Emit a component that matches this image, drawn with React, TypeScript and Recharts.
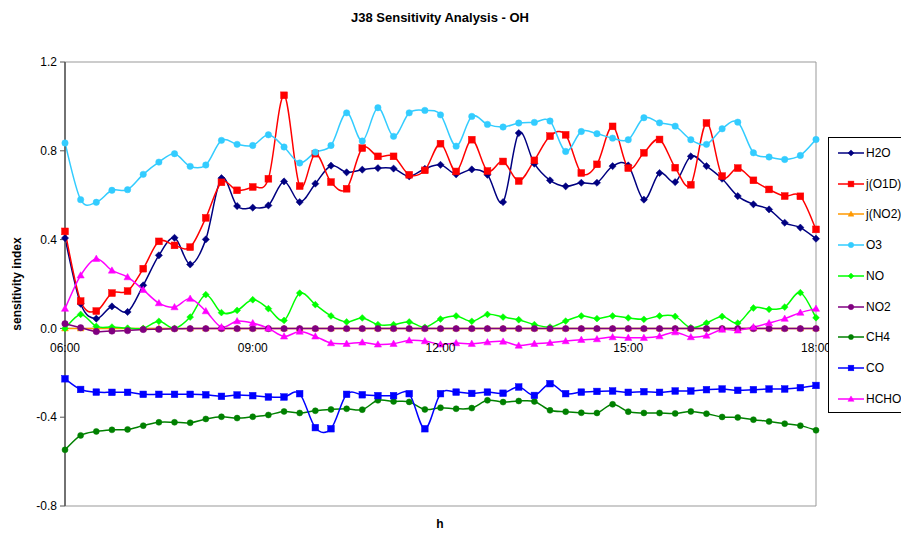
import React from "react";
import { LineChart, Line, XAxis, YAxis, ReferenceLine, ReferenceArea } from "recharts";

const times = [
  "06:00","06:15","06:30","06:45","07:00","07:15","07:30","07:45","08:00","08:15","08:30","08:45",
  "09:00","09:15","09:30","09:45","10:00","10:15","10:30","10:45","11:00","11:15","11:30","11:45",
  "12:00","12:15","12:30","12:45","13:00","13:15","13:30","13:45","14:00","14:15","14:30","14:45",
  "15:00","15:15","15:30","15:45","16:00","16:15","16:30","16:45","17:00","17:15","17:30","17:45",
  "18:00",
];
const tickLabels = ["06:00", "09:00", "12:00", "15:00", "18:00"];
const yTicks = [-0.8, -0.4, 0, 0.4, 0.8, 1.2];

const H2O = [0.407,0.111,0.044,0.099,0.074,0.194,0.329,0.408,0.288,0.401,0.677,0.551,0.544,0.554,0.662,0.569,0.652,0.733,0.703,0.715,0.722,0.72,0.685,0.719,0.737,0.694,0.716,0.692,0.569,0.88,0.742,0.667,0.64,0.656,0.656,0.731,0.734,0.58,0.7,0.659,0.775,0.731,0.674,0.596,0.559,0.536,0.476,0.454,0.404];
const jO1D = [0.437,0.123,0.078,0.159,0.168,0.269,0.392,0.374,0.366,0.498,0.658,0.622,0.637,0.674,1.05,0.641,0.787,0.659,0.629,0.812,0.775,0.775,0.692,0.712,0.832,0.707,0.85,0.709,0.752,0.664,0.757,0.866,0.872,0.7,0.739,0.91,0.722,0.791,0.851,0.724,0.647,0.925,0.686,0.722,0.667,0.626,0.596,0.595,0.446];
const jNO2 = [0,0,0,0,0,0,0,0,0,0,0,0,0,0,0,0,0,0,0,0,0,0,0,0,0,0,0,0,0,0,0,0,0,0,0,0,0,0,0,0,0,0,0,0,0,0,0,0,0];
const O3 = [0.835,0.58,0.568,0.622,0.625,0.694,0.749,0.787,0.73,0.736,0.847,0.829,0.824,0.872,0.817,0.745,0.794,0.824,0.971,0.844,0.994,0.865,0.971,0.982,0.962,0.821,0.955,0.919,0.907,0.925,0.928,0.934,0.797,0.887,0.877,0.857,0.85,0.949,0.926,0.911,0.85,0.829,0.899,0.929,0.791,0.772,0.761,0.779,0.851];
const NO = [0,0.063,0.009,0.006,0.001,0,0.032,0,0.051,0.152,0.071,0.081,0.129,0.089,0.036,0.159,0.107,0.056,0.029,0.047,0.017,0.017,0.029,0.005,0.042,0.056,0.032,0.063,0.051,0.039,0.017,0.006,0.033,0.056,0.044,0.056,0.047,0.041,0.056,0.054,0.003,0.024,0.054,0.024,0.092,0.086,0.096,0.161,0.048];
const NO2 = [0.021,0.003,-0.014,-0.012,-0.01,-0.005,-0.004,-0.002,-0.001,-0.001,-0.001,-0.001,-0.001,-0.001,-0.001,-0.001,-0.001,-0.001,-0.001,-0.001,-0.001,-0.001,-0.001,-0.001,-0.001,-0.001,-0.001,-0.001,-0.001,-0.001,-0.001,-0.001,-0.001,-0.001,-0.001,-0.001,-0.001,-0.001,-0.001,-0.001,-0.001,-0.001,-0.001,-0.001,-0.001,-0.001,-0.001,-0.001,-0.001];
const CH4 = [-0.547,-0.482,-0.464,-0.457,-0.455,-0.438,-0.423,-0.423,-0.425,-0.408,-0.398,-0.404,-0.398,-0.39,-0.374,-0.381,-0.371,-0.365,-0.362,-0.366,-0.324,-0.329,-0.331,-0.365,-0.357,-0.362,-0.359,-0.324,-0.332,-0.327,-0.329,-0.369,-0.375,-0.38,-0.381,-0.342,-0.375,-0.381,-0.381,-0.383,-0.374,-0.384,-0.399,-0.401,-0.411,-0.419,-0.429,-0.438,-0.459];
const CO = [-0.227,-0.275,-0.287,-0.288,-0.288,-0.297,-0.297,-0.297,-0.297,-0.299,-0.306,-0.3,-0.303,-0.309,-0.309,-0.294,-0.447,-0.452,-0.297,-0.299,-0.303,-0.303,-0.294,-0.452,-0.294,-0.287,-0.293,-0.287,-0.292,-0.264,-0.302,-0.249,-0.294,-0.287,-0.284,-0.282,-0.288,-0.285,-0.288,-0.282,-0.282,-0.276,-0.273,-0.279,-0.276,-0.273,-0.273,-0.267,-0.257];
const HCHO = [0.089,0.239,0.314,0.261,0.231,0.174,0.114,0.096,0.134,0.078,0.006,0.033,0.024,0,-0.036,-0.014,-0.036,-0.066,-0.069,-0.063,-0.072,-0.069,-0.054,-0.057,-0.072,-0.066,-0.069,-0.062,-0.059,-0.077,-0.069,-0.065,-0.057,-0.051,-0.048,-0.039,-0.042,-0.042,-0.035,-0.017,-0.039,-0.032,-0.005,-0.009,0.006,0.024,0.044,0.071,0.089];

type Shape = "diamond" | "square" | "triangle" | "circle";
const seriesDefs: { key: string; name: string; values: number[]; color: string; shape: Shape; size: number }[] = [
  { key: "H2O", name: "H2O", values: H2O, color: "#000080", shape: "diamond", size: 3.6 },
  { key: "jO1D", name: "j(O1D)", values: jO1D, color: "#FF0000", shape: "square", size: 3.4 },
  { key: "jNO2", name: "j(NO2)", values: jNO2, color: "#FF9900", shape: "triangle", size: 3.4 },
  { key: "O3", name: "O3", values: O3, color: "#33CCFF", shape: "circle", size: 3.2 },
  { key: "NO", name: "NO", values: NO, color: "#00FF00", shape: "diamond", size: 3.4 },
  { key: "NO2", name: "NO2", values: NO2, color: "#800080", shape: "circle", size: 3.2 },
  { key: "CH4", name: "CH4", values: CH4, color: "#008000", shape: "circle", size: 3.0 },
  { key: "CO", name: "CO", values: CO, color: "#0000FF", shape: "square", size: 3.3 },
  { key: "HCHO", name: "HCHO", values: HCHO, color: "#FF00FF", shape: "triangle", size: 3.6 },
];

const data = times.map((t, i) => {
  const row: Record<string, number | string> = { x: i, t };
  seriesDefs.forEach((s) => (row[s.key] = s.values[i]));
  return row;
});

const W = 901;
const H = 533;
const MARGIN = { top: 62, right: 85, bottom: 0, left: 0 };
const XAXIS_H = 27;
const YAXIS_W = 65;
const Y_MIN = -0.8;
const Y_MAX = 1.2;
const PLOT_H = H - MARGIN.top - MARGIN.bottom - XAXIS_H;
const ZERO_Y = MARGIN.top + (PLOT_H * (Y_MAX - 0)) / (Y_MAX - Y_MIN);
const FONT = "'Liberation Sans', Arial, sans-serif";

// Excel-like smoothing (Catmull-Rom style Bezier)
const smoothCurve = (context: any) => {
  let pts: [number, number][] = [];
  return {
    areaStart() {},
    areaEnd() {},
    lineStart() {
      pts = [];
    },
    lineEnd() {
      if (!pts.length) return;
      context.moveTo(pts[0][0], pts[0][1]);
      for (let i = 0; i < pts.length - 1; i++) {
        const p0 = pts[i - 1] || pts[i];
        const p1 = pts[i];
        const p2 = pts[i + 1];
        const p3 = pts[i + 2] || p2;
        context.bezierCurveTo(
          p1[0] + (p2[0] - p0[0]) / 6,
          p1[1] + (p2[1] - p0[1]) / 6,
          p2[0] - (p3[0] - p1[0]) / 6,
          p2[1] - (p3[1] - p1[1]) / 6,
          p2[0],
          p2[1]
        );
      }
    },
    point(x: number, y: number) {
      pts.push([+x, +y]);
    },
  };
};

const Marker = ({ cx, cy, shape, size, color }: { cx: number; cy: number; shape: Shape; size: number; color: string }) => {
  if (shape === "diamond")
    return <path d={`M${cx},${cy - size}L${cx + size},${cy}L${cx},${cy + size}L${cx - size},${cy}Z`} fill={color} stroke={color} strokeWidth={0.5} />;
  if (shape === "square")
    return <rect x={cx - size} y={cy - size} width={size * 2} height={size * 2} fill={color} stroke={color} strokeWidth={0.5} />;
  if (shape === "triangle")
    return <path d={`M${cx},${cy - size}L${cx + size},${cy + size * 0.75}L${cx - size},${cy + size * 0.75}Z`} fill={color} stroke={color} strokeWidth={0.5} />;
  return <circle cx={cx} cy={cy} r={size} fill={color} stroke={color} strokeWidth={0.5} />;
};

const XTick = (props: any) => {
  const { x, payload } = props;
  return (
    <text x={x} y={ZERO_Y + 24} textAnchor="middle" fontSize={12} fontFamily={FONT} fill="#000">
      {times[payload.value]}
    </text>
  );
};

const YLabel = (props: any) => {
  const vb = props.viewBox || { x: 0, y: MARGIN.top, height: PLOT_H };
  const cx = 17;
  const cy = vb.y + vb.height / 2;
  return (
    <text x={cx} y={cy} transform={`rotate(-90, ${cx}, ${cy})`} textAnchor="middle" dominantBaseline="central" fontSize={12} fontWeight="bold" fontFamily={FONT} fill="#000">
      sensitivity index
    </text>
  );
};

const LegendBox = () => (
  <div
    style={{
      position: "absolute",
      left: 828,
      top: 137,
      width: 90,
      height: 276,
      border: "1px solid #000",
      background: "#fff",
      boxSizing: "border-box",
    }}
  >
    {seriesDefs.map((s, i) => (
      <div key={s.key} style={{ position: "absolute", left: 8, top: 5 + i * 30.7, height: 20, display: "flex", alignItems: "center" }}>
        <svg width={28} height={20} style={{ display: "block" }}>
          <line x1={1} y1={10} x2={27} y2={10} stroke={s.color} strokeWidth={1.5} />
          <Marker cx={14} cy={10} shape={s.shape} size={s.size * 0.85} color={s.color} />
        </svg>
        <span style={{ fontFamily: FONT, fontSize: 12, color: "#000", marginLeft: 1, whiteSpace: "nowrap" }}>{s.name}</span>
      </div>
    ))}
  </div>
);

export default function App() {
  const tickIdx = tickLabels.map((l) => times.indexOf(l));
  return (
    <div style={{ position: "absolute", left: 0, top: 0, width: W, height: H, overflow: "hidden", background: "#fff" }}>
      <div
        style={{
          position: "absolute",
          left: 0,
          top: 10,
          width: 880,
          textAlign: "center",
          fontFamily: FONT,
          fontSize: 13,
          fontWeight: "bold",
          color: "#000",
        }}
      >
        J38 Sensitivity Analysis - OH
      </div>
      <LineChart width={W} height={H} data={data} margin={MARGIN} style={{ position: "absolute", left: 0, top: 0 }}>
        <ReferenceArea x1={0} x2={48} y1={Y_MIN} y2={Y_MAX} fill="none" stroke="#999" strokeWidth={1} ifOverflow="visible" />
        <XAxis
          dataKey="x"
          type="number"
          domain={[0, 48]}
          ticks={tickIdx}
          height={XAXIS_H}
          axisLine={false}
          tickLine={false}
          tick={<XTick />}
          interval={0}
        />
        <YAxis
          type="number"
          domain={[Y_MIN, Y_MAX]}
          ticks={yTicks}
          width={YAXIS_W}
          tickFormatter={(v: number) => v.toFixed(1)}
          tick={{ fontSize: 12, fontFamily: FONT, fill: "#000" }}
          tickSize={5}
          tickMargin={3}
          axisLine={{ stroke: "#555", strokeWidth: 1.5 }}
          tickLine={{ stroke: "#555" }}
          label={<YLabel />}
          allowDataOverflow
        />
        <ReferenceLine y={0} stroke="#555" strokeWidth={1} />
        {seriesDefs.map((s) => (
          <Line
            key={s.key}
            dataKey={s.key}
            name={s.name}
            type={smoothCurve as any}
            stroke={s.color}
            strokeWidth={1.5}
            isAnimationActive={false}
            dot={(p: any) => (
              <g key={`${s.key}-${p.index}`}>
                <Marker cx={p.cx} cy={p.cy} shape={s.shape} size={s.size} color={s.color} />
              </g>
            )}
            activeDot={false}
          />
        ))}
      </LineChart>
      <div
        style={{
          position: "absolute",
          left: 0,
          top: 517,
          width: 880,
          textAlign: "center",
          fontFamily: FONT,
          fontSize: 12,
          fontWeight: "bold",
          color: "#000",
        }}
      >
        h
      </div>
      <LegendBox />
    </div>
  );
}
